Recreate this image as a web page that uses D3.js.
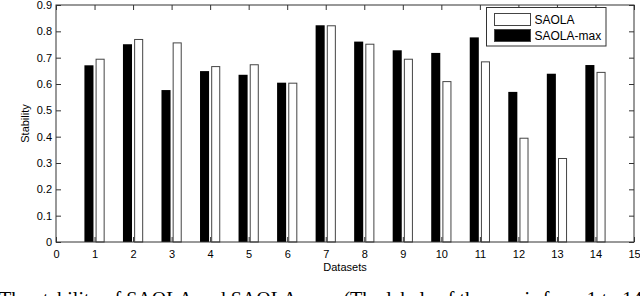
<!DOCTYPE html>
<html>
<head>
<meta charset="utf-8">
<script src="https://cdn.jsdelivr.net/npm/d3@7"></script>
<style>
html,body{margin:0;padding:0;background:#fff;overflow:hidden;}
svg{display:block;}
</style>
</head>
<body>
<svg id="chart" width="640" height="296"></svg>
<script>
const datasets = [1,2,3,4,5,6,7,8,9,10,11,12,13,14];
const saolaMax = [0.671,0.751,0.577,0.649,0.635,0.605,0.823,0.761,0.728,0.718,0.777,0.570,0.639,0.672];
const saola    = [0.696,0.771,0.758,0.668,0.675,0.605,0.823,0.753,0.696,0.611,0.686,0.396,0.319,0.646];
const xTicks = d3.range(0,16);
const yTicks = [0,0.1,0.2,0.3,0.4,0.5,0.6,0.7,0.8,0.9];
const seriesNames = ["SAOLA","SAOLA-max"];

(function(){
const svg = d3.select("#chart");
const mL = 56, mR = 634, mT = 5, mB = 242;
const x = d3.scaleLinear().domain([0,15]).range([mL,mR]);
const y = d3.scaleLinear().domain([0,0.9]).range([mB,mT]);
const axisColor = "#333";
const font = "Liberation Sans, Arial, sans-serif";

const bw = 0.235, off = 0.145;
// black bars (SAOLA-max)
svg.append("g").selectAll("rect").data(datasets).join("rect")
  .attr("x", (d,i)=>x(d-off-bw/2))
  .attr("width", x(bw)-x(0))
  .attr("y", (d,i)=>y(saolaMax[i]))
  .attr("height", (d,i)=>y(0)-y(saolaMax[i]))
  .attr("fill","#000");
// white bars (SAOLA)
svg.append("g").selectAll("rect").data(datasets).join("rect")
  .attr("x", (d,i)=>x(d+off-bw/2)+0.5)
  .attr("width", x(bw)-x(0)-1)
  .attr("y", (d,i)=>y(saola[i])+0.5)
  .attr("height", (d,i)=>y(0)-y(saola[i])-0.5)
  .attr("fill","#fff").attr("stroke","#444").attr("stroke-width",1);

// axes
const tl = 5;
const gB = svg.append("g").attr("transform",`translate(0,${mB})`)
  .call(d3.axisBottom(x).tickValues(xTicks).tickSize(-tl).tickPadding(8).tickFormat(d3.format("d")));
const gT = svg.append("g").attr("transform",`translate(0,${mT})`)
  .call(d3.axisTop(x).tickValues(xTicks).tickSize(-tl).tickFormat(""));
const gL = svg.append("g").attr("transform",`translate(${mL},0)`)
  .call(d3.axisLeft(y).tickValues(yTicks).tickSize(-tl).tickPadding(4).tickFormat(d=>d===0?"0":d3.format(".1f")(d)));
const gR = svg.append("g").attr("transform",`translate(${mR},0)`)
  .call(d3.axisRight(y).tickValues(yTicks).tickSize(-tl).tickFormat(""));
[gB,gT,gL,gR].forEach(g=>{
  g.select(".domain").remove();
  g.selectAll("line").attr("stroke",axisColor);
  g.selectAll("text").attr("font-family",font).attr("font-size",11).attr("fill","#000");
});
svg.append("rect").attr("x",mL).attr("y",mT).attr("width",mR-mL).attr("height",mB-mT)
  .attr("fill","none").attr("stroke",axisColor).attr("stroke-width",1);

// labels
svg.append("text").attr("x",(mL+mR)/2).attr("y",271).attr("text-anchor","middle")
  .attr("font-family",font).attr("font-size",11).text("Datasets");
svg.append("text").attr("transform",`translate(29,${(mT+mB)/2}) rotate(-90)`).attr("text-anchor","middle")
  .attr("font-family",font).attr("font-size",11).text("Stability");

// legend
const lg = svg.append("g");
lg.append("rect").attr("x",486.5).attr("y",7.5).attr("width",119.5).attr("height",38.5)
  .attr("fill","#fff").attr("stroke",axisColor);
const legendFill = ["#fff","#000"];
seriesNames.forEach((name,i)=>{
  lg.append("rect").attr("x",494.5).attr("y",13.5+i*16).attr("width",36).attr("height",12)
    .attr("fill",legendFill[i]).attr("stroke","#444");
  lg.append("text").attr("x",534.5).attr("y",23.5+i*16).attr("font-family",font).attr("font-size",12)
    .text(name);
});

// caption (cropped at bottom, as in the reference)
svg.append("text").attr("x",-1).attr("y",306).attr("font-family","Liberation Serif, Times New Roman, serif")
  .attr("font-size",20).text("The stability of SAOLA and SAOLA-max (The labels of the x-axis from 1 to 14 denote");
})();
</script>
</body>
</html>
